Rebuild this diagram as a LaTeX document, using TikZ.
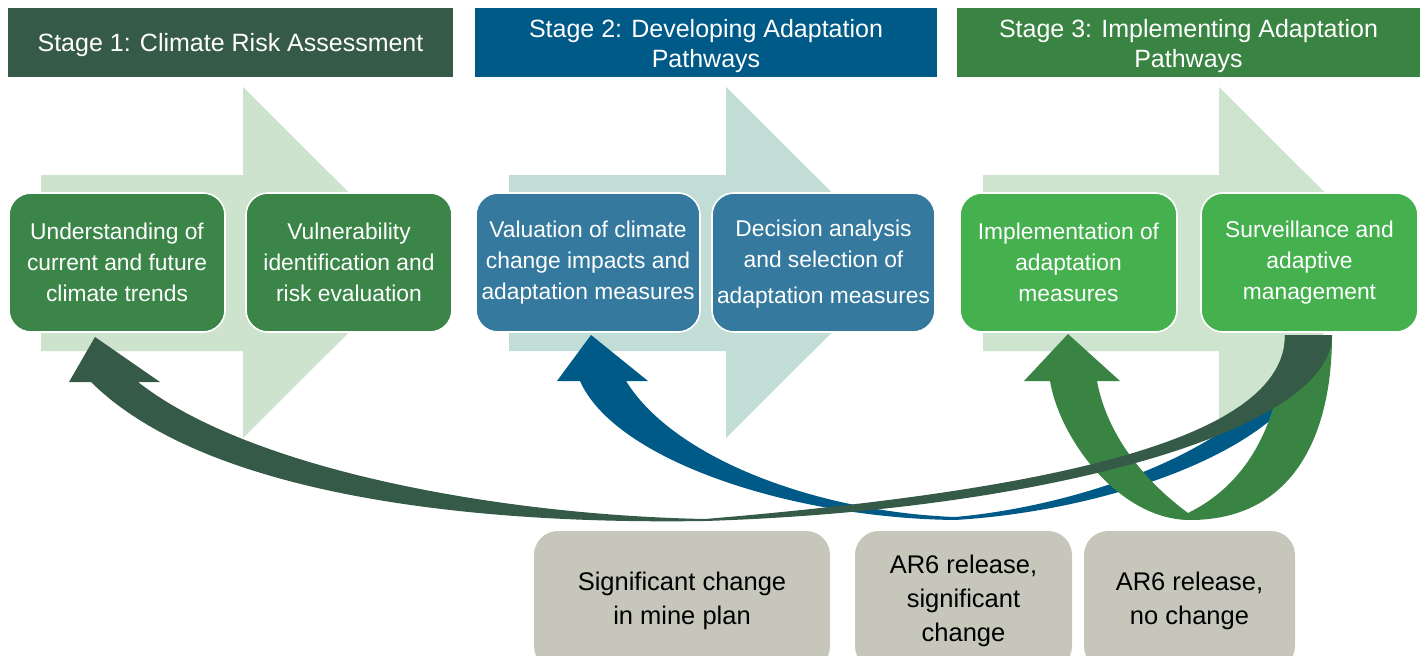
\documentclass[tikz,border=0pt]{standalone}
\usepackage{fontspec}
\setmainfont{Liberation Sans}
\definecolor{hdrA}{HTML}{365A48}
\definecolor{hdrB}{HTML}{005A87}
\definecolor{hdrC}{HTML}{3A8443}
\definecolor{boxA}{HTML}{3B8548}
\definecolor{boxB}{HTML}{357A9E}
\definecolor{boxC}{HTML}{45B04E}
\definecolor{lightA}{HTML}{CEE3CE}
\definecolor{lightB}{HTML}{C2DCD6}
\definecolor{lightC}{HTML}{CFE4CF}
\definecolor{greybox}{HTML}{C6C6BA}
\begin{document}
\begin{tikzpicture}[x=1pt,y=-1pt,
  header/.style={rectangle, inner sep=0pt, minimum height=69pt},
  headtext/.style={text=white, align=center, inner sep=0pt,
    font=\fontsize{25}{30}\selectfont},
  stagebox/.style={rectangle, rounded corners=22pt, draw=white, line width=1.6pt,
    text=white, align=center, inner sep=0pt, minimum height=139pt,
    font=\fontsize{22.8}{31}\selectfont},
  boxtext/.style={text=white, align=center, inner sep=0pt,
    font=\fontsize{22.8}{31}\selectfont},
  eventbox/.style={rectangle, rounded corners=24pt, fill=greybox, text=black,
    align=center, inner sep=0pt, minimum height=139pt,
    font=\fontsize{25.5}{34}\selectfont}]
\useasboundingbox (0,0) rectangle (1422,656);
\begin{scope}
\clip (0,0) rectangle (1422,656);
% headers
\node[header, fill=hdrA, minimum width=445pt] (h1) at (230.5,42.5) {};
\node[header, fill=hdrB, minimum width=462pt] (h2) at (706,42.5) {};
\node[header, fill=hdrC, minimum width=463pt] (h3) at (1188.5,42.5) {};
\node[headtext] (t1) at (230.5,45) {Stage 1: Climate Risk Assessment};
\node[headtext] (t2) at (706,46.5) {Stage 2: Developing Adaptation\\Pathways};
\node[headtext] (t3) at (1188.5,46.5) {Stage 3: Implementing Adaptation\\Pathways};
% light block arrows
\fill[lightA] (41,175) -- (243,175) -- (243,87) -- (419,262.5) -- (243,438) -- (243,351) -- (41,351) -- cycle;
\fill[lightB] (509,175) -- (726,175) -- (726,87) -- (902,262.5) -- (726,438) -- (726,351) -- (509,351) -- cycle;
\fill[lightC] (983,175) -- (1219,175) -- (1219,87) -- (1395,262.5) -- (1219,438) -- (1219,351) -- (983,351) -- cycle;
% stage boxes
\node[stagebox, fill=boxA, minimum width=216pt] (a) at (117,262.5) {Understanding of\\current and future\\climate trends};
\node[stagebox, fill=boxA, minimum width=206pt] (b) at (349,262.5) {Vulnerability\\identification and\\risk evaluation};
\node[stagebox, fill=boxB, minimum width=224pt] (c) at (588,262.5) {Valuation of climate\\change impacts and\\adaptation measures};
\node[stagebox, fill=boxB, minimum width=223pt] (d) at (823.5,262.5) {};
\node[boxtext] (dt) at (823.5,264.5) {Decision analysis\\and selection of\\[5pt]adaptation measures};
\node[stagebox, fill=boxC, minimum width=217pt] (e) at (1068.5,262.5) {Implementation of\\adaptation\\measures};
\node[stagebox, fill=boxC, minimum width=217pt] (f) at (1309.5,262.5) {Surveillance and\\adaptive\\management};
% event boxes
\node[eventbox, minimum width=296pt] (g) at (682,600.5) {Significant change\\in mine plan};
\node[eventbox, minimum width=217pt] (h) at (963.5,600.5) {AR6 release,\\significant\\change};
\node[eventbox, minimum width=211pt] (i) at (1189.5,600.5) {AR6 release,\\no change};
% blue feedback arrow (to stage 2)
\fill[hdrB] (591,335) -- (648,381) -- (626,381)
  .. controls (675,460) and (820,512) .. (955,517)
  .. controls (1090,505) and (1275,440) .. (1300,335)
  -- (1320,335)
  .. controls (1318,440) and (1120,510) .. (955,520)
  .. controls (790,518) and (615,460) .. (580,381)
  -- (557,381) -- cycle;
% green U-turn arrow (to stage 3)
\fill[hdrC] (1068,334) -- (1120,381) -- (1097,381)
  .. controls (1108,440) and (1150,485) .. (1188,513)
  .. controls (1235,490) and (1280,440) .. (1285,335)
  -- (1332,335)
  .. controls (1332,440) and (1290,520) .. (1190,520)
  .. controls (1120,520) and (1060,440) .. (1050,381)
  -- (1024,381) -- cycle;
% dark green feedback arrow (to stage 1)
\fill[hdrA] (95,337) -- (160,382) -- (138,382)
  .. controls (250,470) and (500,515) .. (705,519)
  .. controls (1050,490) and (1285,440) .. (1285,335)
  -- (1332,335)
  .. controls (1332,430) and (1050,510) .. (705,521)
  .. controls (450,525) and (200,490) .. (91,382)
  -- (69,382) -- cycle;
\end{scope}
\end{tikzpicture}
\end{document}
